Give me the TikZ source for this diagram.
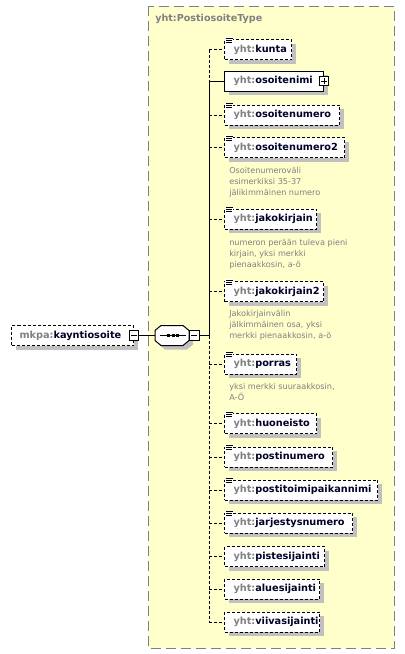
\documentclass[tikz,border=0pt]{standalone}
\usepackage{fontspec}
\setmainfont{DejaVu Sans}
\usetikzlibrary{shadows}
\definecolor{frameyellow}{RGB}{255,255,204}
\definecolor{framegray}{RGB}{128,128,128}
\definecolor{prefgray}{RGB}{128,128,128}
\definecolor{namecol}{RGB}{0,0,40}
\definecolor{shadowgray}{RGB}{192,192,192}
\definecolor{descgray}{RGB}{128,128,128}
\newcommand\yhtlbl[1]{{\bfseries\color{prefgray}yht:}{\bfseries\color{namecol}#1}}
\newcommand\docicon[1]{%
  \fill[white] ([xshift=0.75pt,yshift=1.5pt]#1.north west) rectangle ([xshift=6.75pt,yshift=-3.5pt]#1.north west);
  \draw[lw] ([xshift=1.5pt,yshift=0.75pt]#1.north west) -- ++(6.5,0);
  \draw[lw] ([xshift=1.5pt,yshift=-0.75pt]#1.north west) -- ++(5.5,0);
  \draw[lw] ([xshift=1.5pt,yshift=-2.25pt]#1.north west) -- ++(5.5,0);}
\begin{document}
\begin{tikzpicture}[x=0.75pt,y=-0.75pt,
  lw/.style={line width=0.75pt},
  dsh/.style={dash pattern=on 2.25pt off 1.5pt},
  elem/.style={draw, lw, fill=white, anchor=west, minimum height=15pt,
    inner xsep=6.75pt, inner ysep=0pt, align=left,
    font=\fontsize{7.3}{9}\selectfont,
    drop shadow={fill=shadowgray, opacity=1, shadow xshift=3pt, shadow yshift=-3pt}},
  opt/.style={elem, dsh},
  req/.style={elem},
  desc/.style={anchor=north west, align=left, inner sep=0pt, text=descgray,
    font=\fontsize{6.1}{8.25}\selectfont},
  pm/.style={draw, lw, fill=white, minimum size=7.2pt, inner sep=0pt},
  conn/.style={lw, dsh},
]
\useasboundingbox (0,0) rectangle (404,654);
\fill[white] (0,0) rectangle (404,654);

% type frame
\draw[framegray, lw, fill=frameyellow, dash pattern=on 7.5pt off 3.75pt] (148,6) rectangle (394,648);
\node[anchor=west, inner sep=0pt, text=framegray, font=\fontsize{7.2}{9}\selectfont\bfseries] (title) at (155,19) {yht:PostiosoiteType};

\coordinate (trunk) at (209,0);

% parent element
\node[opt, inner xsep=6pt, text width=79.5pt] (kay) at (11,335.5) {{\bfseries\color{prefgray}mkpa:}{\bfseries\color{namecol}kayntiosoite}};
\node[pm] (kaym) at (kay.east) {};
\draw[lw] ([xshift=-2.25pt]kaym.center) -- ([xshift=2.25pt]kaym.center);

% sequence compositor
\node[minimum width=25.5pt, minimum height=15pt, inner sep=0pt] (seq) at (172,335.5) {};
\fill[shadowgray] (165,329.5) -- (187,329.5) -- (193,334.5) -- (193,344.5) -- (187,349.5) -- (165,349.5) -- (159,344.5) -- (159,334.5) -- cycle;
\draw[lw, fill=white] (161,325.5) -- (183,325.5) -- (189,330.5) -- (189,340.5) -- (183,345.5) -- (161,345.5) -- (155,340.5) -- (155,330.5) -- cycle;
\draw[lw] (160,335.5) -- (186,335.5);
\foreach \cx in {168.5,173,177.5}{\fill (\cx-1.5,334) rectangle (\cx+1.5,337);}
\node[pm] (seqm) at (194.3,335.5) {};
\draw[lw] ([xshift=-2.25pt]seqm.center) -- ([xshift=2.25pt]seqm.center);
\coordinate (junc) at (seq.center -| trunk);

\draw[lw] (kaym.east) -- (seq.west);
\draw[lw] (seqm.east) -- (junc);

% child elements
\node[opt, text width=36.75pt] (kunta) at (224,49.5) {\yhtlbl{kunta}};
\node[req, text width=60.75pt] (osoitenimi) at (224,81) {\yhtlbl{osoitenimi}};
\node[opt, text width=72.75pt] (osoitenumero) at (224,115) {\yhtlbl{osoitenumero}};
\node[opt, text width=76.5pt] (osoitenumero2) at (224,147.5) {\yhtlbl{osoitenumero2}};
\node[opt, text width=55.5pt] (jakokirjain) at (224,219) {\yhtlbl{jakokirjain}};
\node[opt, text width=60.75pt] (jakokirjain2) at (224,291.5) {\yhtlbl{jakokirjain2}};
\node[opt, text width=40.5pt] (porras) at (224,364) {\yhtlbl{porras}};
\node[opt, text width=55.5pt] (huoneisto) at (224,423.5) {\yhtlbl{huoneisto}};
\node[opt, text width=67.5pt] (postinumero) at (224,457) {\yhtlbl{postinumero}};
\node[opt, text width=101.25pt] (postitoimi) at (224,490) {\yhtlbl{postitoimipaikannimi}};
\node[opt, text width=82.5pt] (jarjestys) at (224,523) {\yhtlbl{jarjestysnumero}};
\node[opt, text width=61.5pt] (piste) at (224,556.5) {\yhtlbl{pistesijainti}};
\node[opt, text width=57.75pt] (alue) at (224,589) {\yhtlbl{aluesijainti}};
\node[opt, text width=57.75pt] (viiva) at (224,622) {\yhtlbl{viivasijainti}};

\node[pm] (osoitenimip) at (osoitenimi.east) {};
\draw[lw] ([xshift=-2.25pt]osoitenimip.center) -- ([xshift=2.25pt]osoitenimip.center);
\draw[lw] ([yshift=-2.25pt]osoitenimip.center) -- ([yshift=2.25pt]osoitenimip.center);

\foreach \n in {kunta,osoitenumero,osoitenumero2,jakokirjain,jakokirjain2,porras,huoneisto,postinumero,postitoimi,jarjestys}{\docicon{\n}}

% descriptions
\node[desc] (d1) at (229,167) {Osoitenumeroväli\\esimerkiksi 35-37\\jälikimmäinen numero};
\node[desc] (d2) at (229,239) {numeron perään tuleva pieni\\kirjain, yksi merkki\\pienaakkosin, a-ö};
\node[desc] (d3) at (229,310) {Jakokirjainvälin\\jälkimmäinen osa, yksi\\merkki pienaakkosin, a-ö};
\node[desc] (d4) at (229,383) {yksi merkki suuraakkosin,\\A-Ö};

% trunk
\draw[conn] (kunta.west -| trunk) -- (osoitenimi.west -| trunk);
\draw[lw] (osoitenimi.west -| trunk) -- (junc);
\draw[conn] (junc) -- (viiva.west -| trunk);

% branches
\draw[conn] (kunta.west -| trunk) -- (kunta.west);
\draw[lw] (osoitenimi.west -| trunk) -- (osoitenimi.west);
\foreach \n in {osoitenumero,osoitenumero2,jakokirjain,jakokirjain2,porras,huoneisto,postinumero,postitoimi,jarjestys,piste,alue,viiva}{
  \draw[conn] (\n.west -| trunk) -- (\n.west);}
\end{tikzpicture}
\end{document}
